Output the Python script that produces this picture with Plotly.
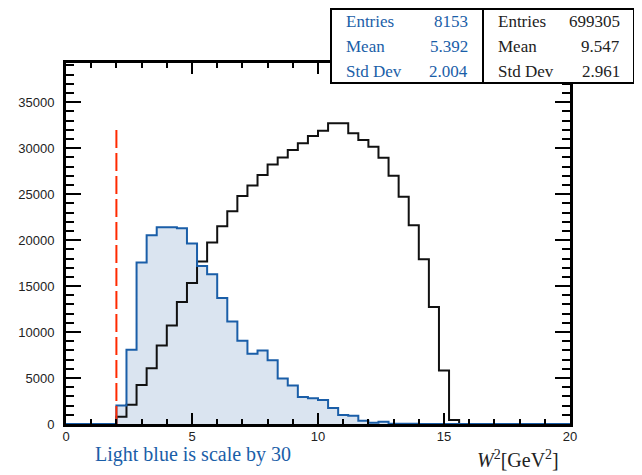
import plotly.graph_objects as go

# ---- data ----
bin_width = 0.4
bin_edges = [round(i * bin_width, 1) for i in range(51)]

blue_counts = [0, 0, 0, 0, 0,   # 0.0 - 2.0
               2000, 8070, 17560, 20530, 21400, 21400, 21300, 19630, 17190, 16280,
               13700, 11160, 9050, 7630, 7990, 6940, 4940, 4180, 2950, 2800,
               2600, 1745, 980, 905, 360, 145, 250, 40, 30, 20,
               10, 5, 0, 0, 0, 0, 0, 0, 0, 0,
               0, 0, 0, 0, 0]

black_counts = [0, 0, 0, 0, 0,
                800, 2105, 4250, 6070, 8540, 10720, 13265, 15340, 17670, 19740,
                21520, 23150, 24790, 25950, 27080, 28240, 29000, 29800, 30530, 31330,
                31910, 32715, 32715, 31625, 30890, 30170, 28970, 27000, 24720, 21625,
                17920, 12720, 5820, 436, 0, 0, 0, 0, 0, 0,
                0, 0, 0, 0, 0]

cut_x = 2.0
cut_top = 32300

x_ticks = [0, 5, 10, 15, 20]
x_tick_text = ["0", "5", "10", "15", "20"]
y_ticks = [0, 5000, 10000, 15000, 20000, 25000, 30000, 35000]
y_tick_text = ["0", "5000", "10000", "15000", "20000", "25000", "30000", "35000"]

stats_blue = [("Entries", "8153"), ("Mean", "5.392"), ("Std Dev", "2.004")]
stats_black = [("Entries", "699305"), ("Mean", "9.547"), ("Std Dev", "2.961")]

# ---- figure ----
BLUE = "#1a5ea8"
FILL = "#dae4f0"
RED = "#ff2a00"

def steps(counts):
    xs = list(bin_edges)
    ys = list(counts) + [counts[-1]]
    return xs, ys

fig = go.Figure()
bx, by = steps(blue_counts)
kx, ky = steps(black_counts)

fig.add_trace(go.Scatter(x=bx, y=by, mode="lines", line_shape="hv",
                         line=dict(color=BLUE, width=0), fill="tozeroy",
                         fillcolor=FILL, hoverinfo="skip", showlegend=False))
fig.add_trace(go.Scatter(x=kx, y=ky, mode="lines", line_shape="hv",
                         line=dict(color="#111111", width=2), showlegend=False))
fig.add_trace(go.Scatter(x=bx, y=by, mode="lines", line_shape="hv",
                         line=dict(color=BLUE, width=2), showlegend=False))
fig.add_trace(go.Scatter(x=[cut_x, cut_x], y=[0, cut_top], mode="lines",
                         line=dict(color=RED, width=2, dash="18px,5px"),
                         showlegend=False))

# page is offset by the default 8px body margin
OFF = 8
W, H = 642 - OFF, 475 - OFF
L, R, T, B = 66 - OFF, 570 - OFF, 63 - OFF, 424 - OFF
pw, ph = R - L, B - T

def px(x):
    return (x - OFF - L) / pw

def py(y):
    return (B - (y - OFF)) / ph

tickfont = dict(family="Liberation Sans", size=13, color="#222222")

fig.update_xaxes(range=[0, 20], tickvals=x_ticks, ticktext=x_tick_text,
                 ticks="inside", ticklen=11,
                 tickwidth=2, tickcolor="black", showline=True, linewidth=3,
                 linecolor="black", mirror="allticks", showgrid=False,
                 zeroline=False, tickfont=tickfont, ticklabelstandoff=-2,
                 automargin=False,
                 minor=dict(dtick=1, ticks="inside", ticklen=5, tickwidth=2,
                            tickcolor="black", showgrid=False))
fig.update_yaxes(range=[0, 39270], tickvals=y_ticks, ticktext=y_tick_text,
                 ticks="inside", ticklen=15,
                 tickwidth=2, tickcolor="black", showline=True, linewidth=3,
                 linecolor="black", mirror="allticks", showgrid=False,
                 zeroline=False, tickfont=tickfont, ticklabelstandoff=6,
                 automargin=False,
                 minor=dict(dtick=1000, ticks="inside", ticklen=8, tickwidth=2,
                            tickcolor="black", showgrid=False))

# stats boxes
box_l, box_m, box_r = 331, 483, 634
box_t, box_b = 9, 83
for x0, x1 in [(box_l, box_m), (box_m, box_r)]:
    fig.add_shape(type="rect", xref="paper", yref="paper",
                  x0=px(x0), x1=px(x1), y0=py(box_b), y1=py(box_t),
                  line=dict(color="black", width=2), fillcolor="white", layer="above")

row_y = [22, 47, 72]
sfont = "Liberation Serif"
for (lab, val), yy in zip(stats_blue, row_y):
    fig.add_annotation(xref="paper", yref="paper", x=px(344), y=py(yy), text=lab,
                       showarrow=False, xanchor="left", yanchor="middle",
                       font=dict(family=sfont, size=17, color=BLUE))
    fig.add_annotation(xref="paper", yref="paper", x=px(470), y=py(yy), text=val,
                       showarrow=False, xanchor="right", yanchor="middle",
                       font=dict(family=sfont, size=17, color=BLUE))
for (lab, val), yy in zip(stats_black, row_y):
    fig.add_annotation(xref="paper", yref="paper", x=px(496), y=py(yy), text=lab,
                       showarrow=False, xanchor="left", yanchor="middle",
                       font=dict(family=sfont, size=17, color="#222222"))
    fig.add_annotation(xref="paper", yref="paper", x=px(622), y=py(yy), text=val,
                       showarrow=False, xanchor="right", yanchor="middle",
                       font=dict(family=sfont, size=17, color="#222222"))

fig.add_annotation(xref="paper", yref="paper", x=px(93), y=py(454),
                   text="Light blue is scale by 30", showarrow=False,
                   xanchor="left", yanchor="middle",
                   font=dict(family=sfont, size=20, color=BLUE))
fig.add_annotation(xref="paper", yref="paper", x=px(561), y=py(459),
                   text="<i>W</i><sup>2</sup>[GeV<sup>2</sup>]", showarrow=False,
                   xanchor="right", yanchor="middle",
                   font=dict(family=sfont, size=20, color="#222222"))

fig.update_layout(width=W, height=H, margin=dict(l=L, r=W - R, t=T, b=H - B),
                  plot_bgcolor="white", paper_bgcolor="white")

fig.write_html("out.html")
